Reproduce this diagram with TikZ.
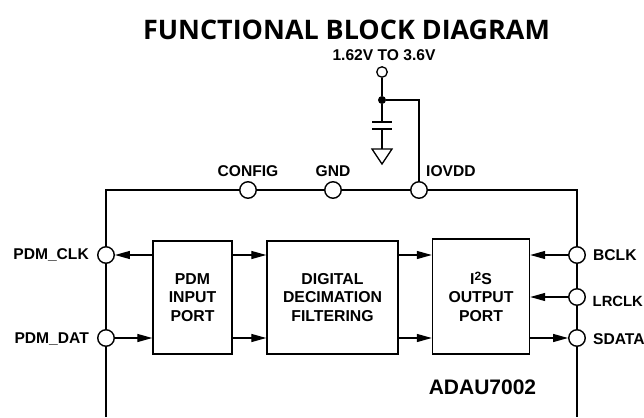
\documentclass[tikz,border=0pt]{standalone}
\usepackage{fontspec}
\setmainfont{Liberation Sans}
\newfontfamily\titlefont{Open Sans}
\usetikzlibrary{arrows.meta}
\tikzset{
    pin/.style={circle,draw,fill=white,line width=1.4pt,inner sep=0pt,minimum size=16.5pt},
    block/.style={draw,line width=1.4pt,fill=white,align=center,font=\bfseries\fontsize{15.8}{18.2}\selectfont},
    lbl/.style={font=\bfseries\fontsize{15.6}{18}\selectfont,inner sep=0pt},
    sig/.style={line width=1.3pt,-{Triangle[length=15pt,width=8pt]}},
    wire/.style={line width=1.3pt}
}
\begin{document}
\begin{tikzpicture}[x=1pt,y=-1pt]
    \useasboundingbox (0,0) rectangle (644,417);
    \node[inner sep=0pt,font=\titlefont\bfseries\fontsize{26.9}{30}\selectfont] (title) at (346.5,30) {FUNCTIONAL BLOCK DIAGRAM};
    % package outline
    \coordinate (bl) at (106,417);
    \coordinate (tl) at (106,190);
    \coordinate (tr) at (577,190);
    \coordinate (br) at (577,417);
    \draw[line width=2.1pt] (bl) -- (tl) -- (tr) -- (br);
    % pins
    \foreach \name/\x/\y in {config/248/190,gnd/333/190,iovdd/419/190,pdmclk/106/255,pdmdat/106/338,bclk/577/255,lrclk/577/297,sdata/577/338}{
        \node[pin] (\name) at (\x,\y) {};
    }
    \node[lbl] (configl) at (248,171) {CONFIG};
    \node[lbl] (gndl) at (333,171) {GND};
    \node[lbl,anchor=west] (iovddl) at (426,171) {IOVDD};
    \node[lbl,anchor=east] (pdmclkl) at (89,255) {PDM\_CLK};
    \node[lbl,anchor=east] (pdmdatl) at (89,339) {PDM\_DAT};
    \node[lbl,anchor=west] (bclkl) at (593,255) {BCLK};
    \node[lbl,anchor=west,font=\bfseries\fontsize{14.8}{18}\selectfont] (lrclkl) at (592.5,301) {LRCLK};
    \node[lbl,anchor=west] (sdatal) at (593,339) {SDATA};
    \node[font=\bfseries\fontsize{21}{24}\selectfont,inner sep=0pt] (part) at (482.5,387) {ADAU7002};
    % blocks
    \node[block,minimum width=79pt,minimum height=113pt] (pdm) at (192.5,297.5) {PDM\\INPUT\\PORT};
    \node[block,minimum width=131pt,minimum height=113pt] (dig) at (332.5,297.5) {DIGITAL\\DECIMATION\\FILTERING};
    \node[block,minimum width=97pt,minimum height=115pt] (iis) at (481,296.5) {I\raisebox{4.5pt}{\fontsize{12}{12}\selectfont 2}S\\OUTPUT\\PORT};
    % signals
    \draw[sig] (pdm.west |- pdmclk) -- (pdmclk);
    \draw[sig] (pdmdat) -- (pdm.west |- pdmdat);
    \draw[sig] (pdm.east |- pdmclk) -- (dig.west |- pdmclk);
    \draw[sig] (pdm.east |- pdmdat) -- (dig.west |- pdmdat);
    \draw[sig] (dig.east |- pdmclk) -- (iis.west |- pdmclk);
    \draw[sig] (dig.east |- pdmdat) -- (iis.west |- pdmdat);
    \draw[sig] (bclk) -- (iis.east |- bclk);
    \draw[sig] (lrclk) -- (iis.east |- lrclk);
    \draw[sig] (iis.east |- sdata) -- (sdata);
    % supply
    \node[lbl] (supplyl) at (384,55) {1.62V TO 3.6V};
    \node[circle,draw,fill=white,line width=1.3pt,inner sep=0pt,minimum size=10.5pt] (supply) at (382,72) {};
    \node[circle,fill=black,inner sep=0pt,minimum size=8pt] (junct) at (382,100) {};
    \coordinate (capa) at (382,122);
    \coordinate (capb) at (382,129);
    \coordinate (gndtop) at (382,149);
    \draw[wire] (supply) -- (junct) -- (capa);
    \draw[wire] (capb) -- (gndtop);
    \draw[wire] (junct) -| (iovdd);
    \draw[wire] ([xshift=-10pt]capa) -- ([xshift=10pt]capa);
    \draw[wire] ([xshift=-10pt]capb) -- ([xshift=10pt]capb);
    \draw[wire] ([xshift=-10pt]gndtop) -- ([xshift=10pt]gndtop) -- (382,164) -- cycle;
\end{tikzpicture}
\end{document}
